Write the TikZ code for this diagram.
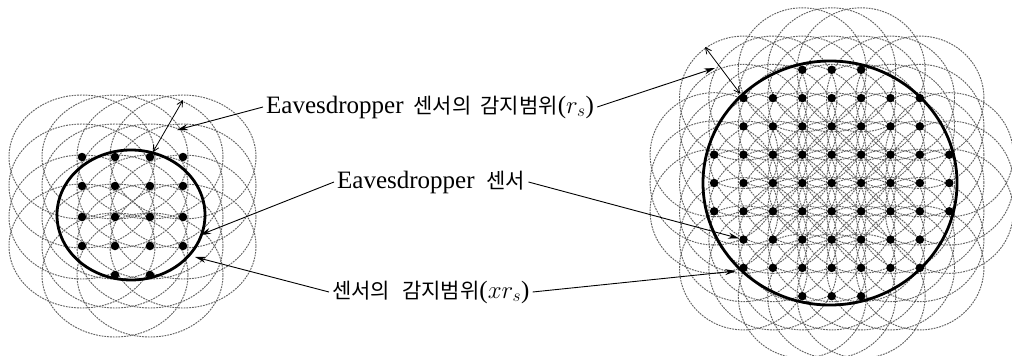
\documentclass[tikz,border=0pt]{standalone}
\usepackage{fontspec}
\setmainfont{Liberation Serif}
\newfontfamily\kr[Scale=0.84]{Noto Sans CJK KR}
\usetikzlibrary{arrows.meta}
\begin{document}
\begin{tikzpicture}[x=1pt,y=-1pt,
  sens/.style={draw=black!62, line width=0.95pt, dash pattern=on 1.8pt off 1pt},
  dotnode/.style={circle, fill=black, inner sep=0pt, minimum size=8.5pt},
  rim/.style={draw=black, line width=2.8pt},
  lbl/.style={font=\fontsize{25}{28}\selectfont, inner sep=3pt, anchor=west},
  ptr/.style={-{Stealth[length=11pt,width=6pt]}, line width=0.9pt},
  meas/.style={{Straight Barb[length=6pt,width=6pt]}-{Straight Barb[length=6pt,width=6pt]}, line width=0.8pt, shorten <=1pt}]
\useasboundingbox (0,0) rectangle (1012,356);

% ---------- left cluster: sensing ranges ----------
\foreach \x in {82,115,150,183}{
  \foreach \y in {157,186,217,246}{
    \draw[sens] (\x,\y) ellipse [x radius=73pt, y radius=62pt];
  }}
\draw[sens] (115,275) ellipse [x radius=73pt, y radius=62pt];
\draw[sens] (150,275) ellipse [x radius=73pt, y radius=62pt];
% rim
\draw[rim] (131,215) ellipse [x radius=74pt, y radius=65pt];
% dots
\foreach \c/\x in {1/82,2/115,3/150,4/183}{
  \foreach \r/\y in {1/157,2/186,3/217,4/246}{
    \node[dotnode] (L\r\c) at (\x,\y) {};
  }}
\node[dotnode] (L52) at (115,275) {};
\node[dotnode] (L53) at (150,275) {};

% ---------- right cluster ----------
\foreach \i in {-4,...,4}{
  \foreach \j in {-4,...,4}{
    \pgfmathtruncatemacro\dd{\i*\i+\j*\j}
    \ifnum\dd<19
      \draw[sens] ({831.7+29.4*\i},{183+28.3*\j}) ellipse [x radius=64pt, y radius=62pt];
    \fi
  }}
\draw[rim] (830,183) ellipse [x radius=127pt, y radius=122pt];
\foreach \i in {-4,...,4}{
  \foreach \j in {-4,...,4}{
    \pgfmathtruncatemacro\dd{\i*\i+\j*\j}
    \pgfmathtruncatemacro\ii{\i+4}
    \pgfmathtruncatemacro\jj{\j+4}
    \ifnum\dd<19
      \node[dotnode] (R\ii\jj) at ({831.7+29.4*\i},{183+28.3*\j}) {};
    \fi
  }}

% ---------- measure arrows (r_s) ----------
\coordinate (lrs) at (183,100);
\coordinate (rrs) at (705,47);
\draw[meas] (L13) -- (lrs);
\draw[meas] (R11) -- (rrs);

% ---------- labels ----------
\node[lbl] (l1) at (263,107) {Eavesdropper\hspace{10pt}{\kr 센서의}\hspace{9pt}{\kr 감지범위}($r_s$)};
\node[lbl] (l2) at (334,182) {Eavesdropper\hspace{12pt}{\kr 센서}};
\node[lbl] (l3) at (329,292) {{\kr 센서의}\hspace{12pt}{\kr 감지범위}($xr_s$)};

% ---------- pointers ----------
\coordinate (p1l) at (177,130);
\coordinate (p1r) at (715,68);
\coordinate (p2l) at (200,235);
\coordinate (p3l) at (195,257);
\coordinate (p3r) at (736,271);
\draw[ptr] (l1.west) -- (p1l);
\draw[ptr] (l1.east) -- (p1r);
\draw[ptr] (l2.west) -- (p2l);
\draw[ptr] (l2.east) -- (R16);
\draw[ptr] (l3.west) -- (p3l);
\draw[ptr] (l3.east) -- (p3r);
\end{tikzpicture}
\end{document}
